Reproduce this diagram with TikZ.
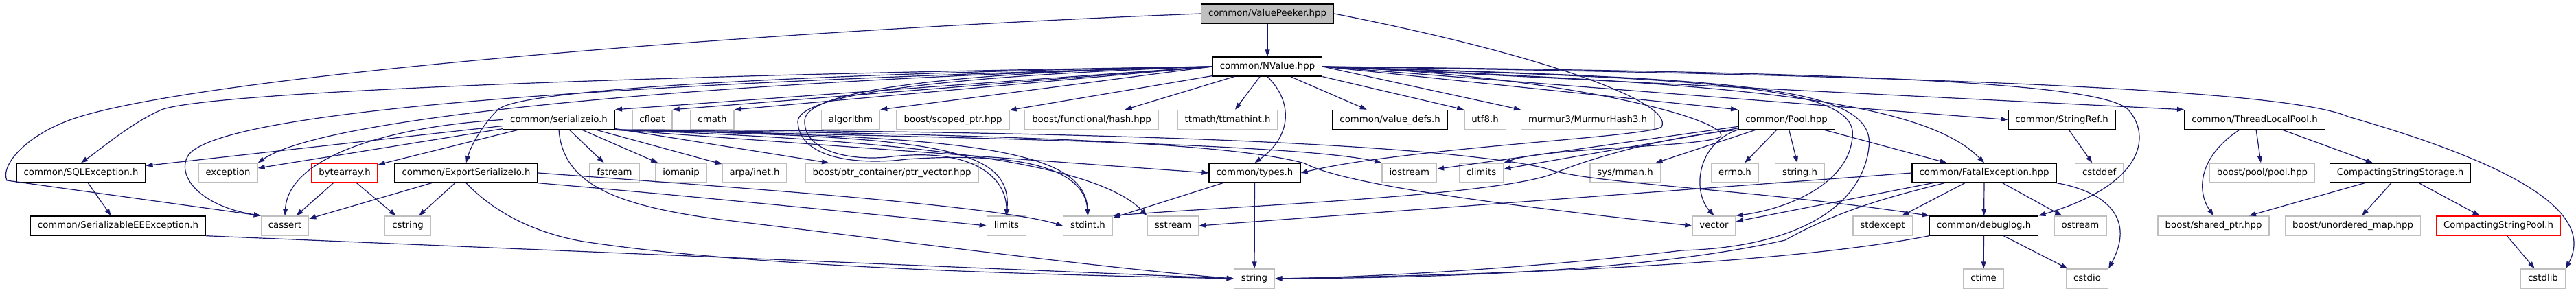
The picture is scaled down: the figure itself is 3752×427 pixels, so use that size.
\documentclass[tikz,border=0pt]{standalone}
\usepackage{fontspec}
\setmainfont{DejaVu Sans}
\usetikzlibrary{arrows.meta}
\definecolor{dxblue}{RGB}{25,25,112}
\definecolor{dxgrey}{RGB}{191,191,191}
\definecolor{dxred}{RGB}{255,0,0}

\begin{document}
\begin{tikzpicture}[x=1pt,y=-1pt,line width=1.2pt,>={Triangle[length=10pt,width=7pt]},
  box/.style={rectangle,line width=1.4pt,font=\fontsize{13.3}{15}\selectfont,minimum height=28pt,inner xsep=10.5pt,text height=10pt,text depth=2.8pt},
  docbox/.style={box,draw=black},
  sysbox/.style={box,draw=dxgrey},
  rootbox/.style={box,draw=black,fill=dxgrey},
  redbox/.style={box,draw=dxred},
  dep/.style={dxblue,->}]
  \useasboundingbox (0,0) rectangle (3752,427);

  \node[rootbox] (vp) at (1846,20) {common/ValuePeeker.hpp};
  \node[docbox] (nv) at (1846,97) {common/NValue.hpp};

  \node[docbox] (sio) at (814,174.5) {common/serializeio.h};
  \node[sysbox] (cfloat) at (950,174.5) {cfloat};
  \node[sysbox] (cmath) at (1037.5,174.5) {cmath};
  \node[sysbox] (algorithm) at (1239,174.5) {algorithm};
  \node[sysbox] (scoped) at (1388,174.5) {boost/scoped\_ptr.hpp};
  \node[sysbox] (fhash) at (1590,174.5) {boost/functional/hash.hpp};
  \node[sysbox] (ttm) at (1788,174.5) {ttmath/ttmathint.h};
  \node[docbox] (vdefs) at (2024.6,174.5) {common/value\_defs.h};
  \node[sysbox] (utf8) at (2163,174.5) {utf8.h};
  \node[sysbox] (murmur) at (2312.6,174.5) {murmur3/MurmurHash3.h};
  \node[docbox] (pool) at (2602,174.5) {common/Pool.hpp};
  \node[docbox] (sref) at (3003,174.5) {common/StringRef.h};
  \node[docbox] (tlp) at (3284,174.5) {common/ThreadLocalPool.h};

  \node[docbox] (sqlex) at (118,252) {common/SQLException.h};
  \node[sysbox] (exception) at (332,252) {exception};
  \node[redbox] (bytearray) at (502,252) {bytearray.h};
  \node[docbox] (esio) at (679,252) {common/ExportSerializeIo.h};
  \node[sysbox] (fstream) at (895,252) {fstream};
  \node[sysbox] (iomanip) at (992,252) {iomanip};
  \node[sysbox] (inet) at (1099,252) {arpa/inet.h};
  \node[sysbox] (ptrvec) at (1299,252) {boost/ptr\_container/ptr\_vector.hpp};
  \node[docbox] (types) at (1827.5,252) {common/types.h};
  \node[sysbox] (iostream) at (2052.7,252) {iostream};
  \node[sysbox] (climits) at (2157.5,252) {climits};
  \node[sysbox] (mman) at (2367,252) {sys/mman.h};
  \node[sysbox] (errno) at (2527,252) {errno.h};
  \node[sysbox] (stringh) at (2621.5,252) {string.h};
  \node[docbox] (fatal) at (2890,252) {common/FatalException.hpp};
  \node[sysbox] (cstddef) at (3057.6,252) {cstddef};
  \node[sysbox] (bpool) at (3295,252) {boost/pool/pool.hpp};
  \node[docbox] (css) at (3496,252) {CompactingStringStorage.h};

  \node[docbox] (seee) at (172,329) {common/SerializableEEException.h};
  \node[sysbox] (cassert) at (415,329) {cassert};
  \node[sysbox] (cstring) at (594,329) {cstring};
  \node[sysbox] (limits) at (1466,329) {limits};
  \node[sysbox] (stdint) at (1584.5,329) {stdint.h};
  \node[sysbox] (sstream) at (1708.5,329) {sstream};
  \node[sysbox] (vector) at (2496.5,329) {vector};
  \node[sysbox] (stdexcept) at (2742,329) {stdexcept};
  \node[docbox] (debuglog) at (2889.6,329) {common/debuglog.h};
  \node[sysbox] (ostream) at (3030,329) {ostream};
  \node[sysbox] (sharedptr) at (3224,329) {boost/shared\_ptr.hpp};
  \node[sysbox] (umap) at (3427,329) {boost/unordered\_map.hpp};
  \node[redbox] (csp) at (3639,329) {CompactingStringPool.h};

  \node[sysbox] (string) at (1827,406) {string};
  \node[sysbox] (ctime) at (2889,406) {ctime};
  \node[sysbox] (cstdio) at (3040,406) {cstdio};
  \node[sysbox] (cstdlib) at (3704,406) {cstdlib};

  \draw[dep] (vp) -- (nv);
  \draw[dep] (vp.west) .. controls (1100,45) and (300,110) .. (110,172) .. controls (40,195) and (0,240) .. (10,263) -- (cassert.north west);
  \draw[dep] (vp.east) .. controls (2250,80) and (2440,150) .. (2420,185) .. controls (2400,200) and (2050,215) .. (types.east);

  \draw[dep] (nv.west) -- (sio.north east);
  \draw[dep] (nv.west) -- (cfloat.north east);
  \draw[dep] (nv.west) -- (cmath.north east);
  \draw[dep] (nv.west) -- (algorithm.north east);
  \draw[dep] (nv) -- (scoped);
  \draw[dep] (nv) -- (fhash);
  \draw[dep] (nv) -- (ttm);
  \draw[dep] (nv) -- (vdefs);
  \draw[dep] (nv.south east) -- (utf8.north west);
  \draw[dep] (nv.east) -- (murmur.north west);
  \draw[dep] (nv.east) -- (pool.north west);
  \draw[dep] (nv.east) -- (sref.west);
  \draw[dep] (nv.east) -- (tlp.north west);
  \draw[dep] (nv.west) .. controls (900,110) and (300,135) .. (235,160) .. controls (190,180) and (150,215) .. (sqlex.north);
  \draw[dep] (nv.west) .. controls (1100,115) and (480,165) .. (exception.north east);
  \draw[dep] (nv.west) .. controls (900,120) and (330,160) .. (275,225) .. controls (255,255) and (290,300) .. (cassert.north west);
  \draw[dep] (nv.west) .. controls (1300,105) and (760,125) .. (725,160) .. controls (700,185) and (685,215) .. (esio.north);
  \draw[dep] (nv.west) .. controls (1400,105) and (1175,130) .. (1172,175) .. controls (1170,225) and (1250,235) .. (1300,228) .. controls (1420,215) and (1466,260) .. (limits.north);
  \draw[dep] (nv.west) .. controls (1400,110) and (1160,135) .. (1162,178) .. controls (1165,235) and (1260,240) .. (1320,232) .. controls (1500,220) and (1580,250) .. (stdint.north);
  \draw[dep] (nv.south) .. controls (1885,150) and (1880,200) .. (types.north);
  \draw[dep] (nv.east) .. controls (2300,110) and (2530,180) .. (2505,200) .. controls (2470,215) and (2250,215) .. (climits.north east);
  \draw[dep] (nv.east) .. controls (2450,115) and (2710,120) .. (2698,200) .. controls (2692,270) and (2600,305) .. (vector.north east);
  \draw[dep] (nv.east) .. controls (2500,115) and (2735,120) .. (2722,215) .. controls (2712,300) and (2620,360) .. (2450,365) .. controls (2200,395) and (1950,405) .. (string.east);
  \draw[dep] (nv.east) .. controls (2450,120) and (2790,135) .. (fatal.north);
  \draw[dep] (nv.east) .. controls (2700,105) and (3060,120) .. (3100,160) .. controls (3135,200) and (3120,270) .. (debuglog.north east);
  \draw[dep] (nv.east) .. controls (2800,110) and (3330,130) .. (3420,170) .. controls (3700,250) and (3775,320) .. (cstdlib.north east);

  \draw[dep] (sio) -- (sqlex);
  \draw[dep] (sio) -- (exception);
  \draw[dep] (sio.west) .. controls (560,185) and (420,230) .. (cassert.north);
  \draw[dep] (sio) -- (bytearray);
  \draw[dep] (sio) -- (fstream);
  \draw[dep] (sio) -- (iomanip);
  \draw[dep] (sio) -- (inet);
  \draw[dep] (sio) -- (ptrvec);
  \draw[dep] (sio.south east) -- (types.west);
  \draw[dep] (sio.south east) .. controls (1350,200) and (1475,210) .. (limits.north);
  \draw[dep] (sio.south east) .. controls (1400,198) and (1580,215) .. (stdint.north);
  \draw[dep] (sio.south east) .. controls (1350,205) and (1600,240) .. (sstream.north west);
  \draw[dep] (sio.south east) .. controls (1400,200) and (1900,210) .. (iostream.north west);
  \draw[dep] (sio.south east) .. controls (1500,195) and (1800,210) .. (1900,238) .. controls (1960,270) and (2200,300) .. (vector.west);
  \draw[dep] (sio.south east) .. controls (1600,190) and (2100,210) .. (2250,245) .. controls (2310,268) and (2550,275) .. (debuglog.north west);
  \draw[dep] (sio.south) .. controls (820,270) and (900,300) .. (1050,320) .. controls (1300,350) and (1600,390) .. (string.west);

  \draw[dep] (sqlex) -- (seee);
  \draw[dep] (seee.south east) -- (string.west);
  \draw[dep] (bytearray) -- (cassert);
  \draw[dep] (bytearray) -- (cstring);
  \draw[dep] (esio) -- (cassert);
  \draw[dep] (esio) -- (cstring);
  \draw[dep] (esio.south east) .. controls (1000,285) and (1300,315) .. (limits.west);
  \draw[dep] (esio.east) .. controls (1100,275) and (1450,300) .. (stdint.west);
  \draw[dep] (esio.south) .. controls (720,310) and (780,340) .. (850,352) .. controls (1100,390) and (1500,400) .. (string.west);
  \draw[dep] (types) -- (stdint);
  \draw[dep] (types) -- (string);

  \draw[dep] (pool) -- (iostream);
  \draw[dep] (pool) -- (climits);
  \draw[dep] (pool.south west) .. controls (2420,200) and (2320,230) .. (2270,250) .. controls (2200,285) and (1800,300) .. (stdint.north east);
  \draw[dep] (pool) -- (mman);
  \draw[dep] (pool) -- (errno);
  \draw[dep] (pool) -- (stringh);
  \draw[dep] (pool.south west) .. controls (2470,210) and (2465,280) .. (vector.north);
  \draw[dep] (pool) -- (fatal);

  \draw[dep] (fatal.west) -- (sstream.east);
  \draw[dep] (fatal) -- (vector);
  \draw[dep] (fatal) .. controls (2760,285) and (2680,305) .. (2600,350) .. controls (2400,395) and (2100,405) .. (string.east);
  \draw[dep] (fatal) -- (stdexcept);
  \draw[dep] (fatal) -- (debuglog);
  \draw[dep] (fatal) -- (ostream);
  \draw[dep] (fatal.south east) .. controls (3070,280) and (3110,320) .. (cstdio.north east);

  \draw[dep] (debuglog.south west) .. controls (2600,385) and (2200,400) .. (string.east);
  \draw[dep] (debuglog) -- (ctime);
  \draw[dep] (debuglog) -- (cstdio);

  \draw[dep] (sref) -- (cstddef);
  \draw[dep] (tlp) .. controls (3200,230) and (3200,280) .. (sharedptr.north);
  \draw[dep] (tlp) -- (bpool);
  \draw[dep] (tlp) -- (css);
  \draw[dep] (css) -- (sharedptr);
  \draw[dep] (css) -- (umap);
  \draw[dep] (css) -- (csp);
  \draw[dep] (csp) -- (cstdlib);
\end{tikzpicture}
\end{document}
